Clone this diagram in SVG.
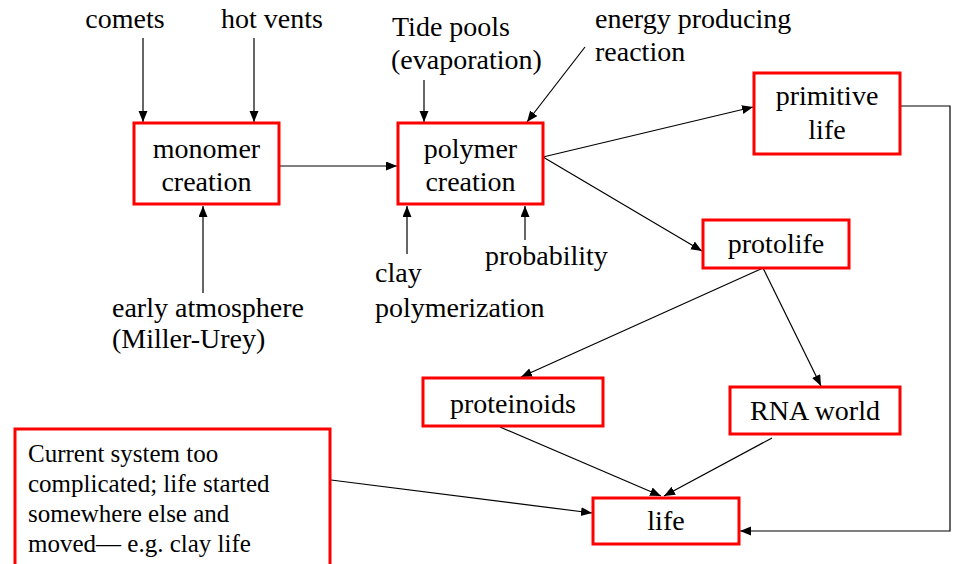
<svg xmlns="http://www.w3.org/2000/svg" width="955" height="564" viewBox="0 0 955 564">
<style>
text{font-family:'Liberation Serif','Times New Roman',serif;font-size:28px;fill:#000}
.c{text-anchor:middle}
.s{font-size:25px}
.box{fill:#fff;stroke:#ff0000;stroke-width:3}
.ln{stroke:#000;stroke-width:1.2;fill:none;marker-end:url(#ah)}
</style>
<defs>
<marker id="ah" markerUnits="userSpaceOnUse" markerWidth="12" markerHeight="10" refX="11" refY="4.5" orient="auto">
<path d="M0,0 L11,4.5 L0,9 z" fill="#000"/>
</marker>
</defs>
<rect width="955" height="564" fill="#fff"/>
<g id="connectors">
<line class="ln" x1="143" y1="38" x2="143" y2="122"/>
<line class="ln" x1="254" y1="38" x2="254" y2="122"/>
<line class="ln" x1="203" y1="293" x2="203" y2="206"/>
<line class="ln" x1="280" y1="166" x2="397" y2="166"/>
<line class="ln" x1="424" y1="80" x2="424" y2="122"/>
<line class="ln" x1="585" y1="47" x2="527" y2="122"/>
<line class="ln" x1="407" y1="254" x2="407" y2="206"/>
<line class="ln" x1="525" y1="240" x2="525" y2="206"/>
<line class="ln" x1="543" y1="157" x2="753" y2="107"/>
<line class="ln" x1="543" y1="157" x2="702" y2="251"/>
<polyline class="ln" points="900,106 950,106 950,531 740,531"/>
<line class="ln" x1="763" y1="268" x2="521" y2="377"/>
<line class="ln" x1="763" y1="268" x2="821" y2="386"/>
<line class="ln" x1="500" y1="427" x2="661" y2="496"/>
<line class="ln" x1="772" y1="438" x2="664" y2="496"/>
<line class="ln" x1="331" y1="480" x2="592" y2="513"/>
</g>
<g id="comets"><text class="c" x="125" y="28">comets</text></g>
<g id="hot-vents"><text class="c" x="272" y="28">hot vents</text></g>
<g id="tide-pools"><text x="392" y="36">Tide pools</text><text x="391" y="69">(evaporation)</text></g>
<g id="energy"><text x="595" y="28">energy producing</text><text x="595" y="61">reaction</text></g>
<g id="monomer"><rect class="box" x="134" y="123" width="145" height="81"/><text class="c" x="206.5" y="158">monomer</text><text class="c" x="206.5" y="191">creation</text></g>
<g id="polymer"><rect class="box" x="398" y="123" width="145" height="81"/><text class="c" x="470.5" y="158">polymer</text><text class="c" x="470.5" y="191">creation</text></g>
<g id="primitive"><rect class="box" x="754" y="73" width="146" height="81"/><text class="c" x="827" y="105">primitive</text><text class="c" x="827" y="139">life</text></g>
<g id="protolife"><rect class="box" x="703" y="220" width="146" height="48"/><text class="c" x="776" y="253">protolife</text></g>
<g id="probability"><text x="485" y="265">probability</text></g>
<g id="clay"><text x="375" y="282">clay</text><text x="375" y="317">polymerization</text></g>
<g id="early-atmosphere"><text x="112" y="317">early atmosphere</text><text x="112" y="348">(Miller-Urey)</text></g>
<g id="proteinoids"><rect class="box" x="423" y="378" width="180" height="48"/><text class="c" x="513" y="413">proteinoids</text></g>
<g id="rna-world"><rect class="box" x="730" y="387" width="170" height="47"/><text class="c" x="815" y="420">RNA world</text></g>
<g id="life"><rect class="box" x="593" y="498" width="146" height="46"/><text class="c" x="666" y="530">life</text></g>
<g id="current-system"><rect class="box" x="15" y="429" width="315" height="150"/>
<text class="s" x="28" y="462">Current system too</text>
<text class="s" x="28" y="492">complicated; life started</text>
<text class="s" x="28" y="522">somewhere else and</text>
<text class="s" x="28" y="552">moved— e.g. clay life</text></g>
</svg>
